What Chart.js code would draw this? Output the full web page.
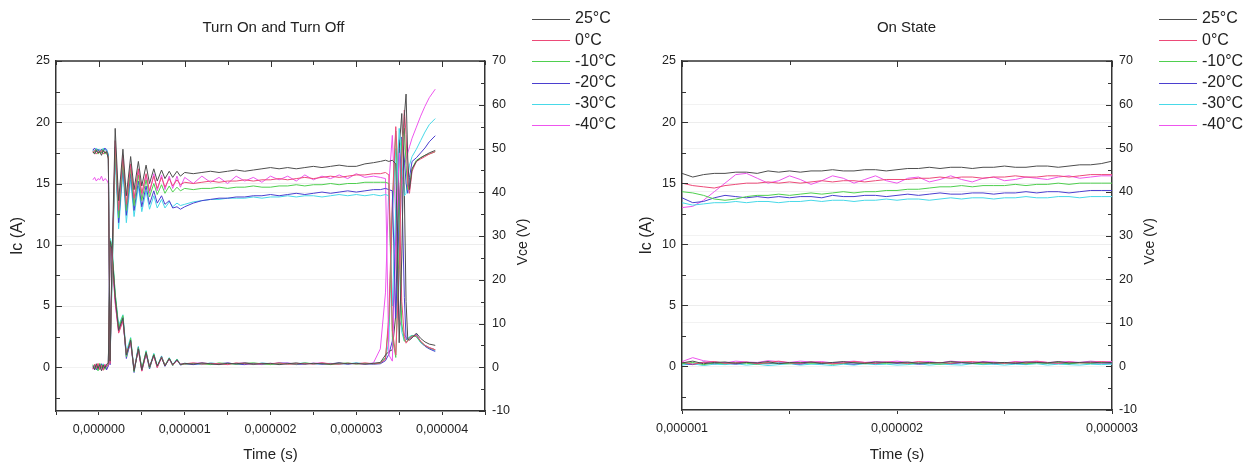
<!DOCTYPE html>
<html>
<head>
<meta charset="utf-8">
<script src="https://cdn.jsdelivr.net/npm/chart.js@4.4.1/dist/chart.umd.min.js"></script>
<style>
  body { margin: 0; background: #fff; }
  .panel { position: absolute; top: 0; width: 629px; height: 467px; }
</style>
</head>
<body>
<div class="panel" style="left:0"><canvas id="switching" width="629" height="467"></canvas></div>
<div class="panel" style="left:629px"><canvas id="onstate" width="629" height="467"></canvas></div>
<script>
const temps = ['25°C', '0°C', '-10°C', '-20°C', '-30°C', '-40°C'];
const colors = ['#4d4d4d', '#ec4a78', '#4fcf4f', '#4b3fcf', '#47d9e8', '#ee55ee'];

// Turn on / turn off, time in microseconds
const tSwitch = [
  -0.07, -0.05, -0.03, -0.01, 0.01, 0.03, 0.05, 0.07, 0.09, 0.11,
  0.13, 0.15,
  0.19, 0.23, 0.28, 0.32, 0.37, 0.41, 0.46, 0.50, 0.55, 0.59, 0.64, 0.68, 0.73, 0.77, 0.82, 0.86, 0.91, 0.95,
  1.0, 1.1, 1.2, 1.3, 1.4, 1.5, 1.6, 1.7, 1.8, 1.9, 2.0, 2.1, 2.2, 2.3, 2.4, 2.5, 2.6, 2.7, 2.8, 2.9, 3.0, 3.1, 3.2,
  3.28, 3.34, 3.38, 3.42, 3.46, 3.50, 3.53, 3.56, 3.58, 3.60, 3.62, 3.65, 3.70, 3.75, 3.80, 3.85, 3.92
];

// Ic (A)
const icSw25 = [
  17.6, 17.4, 17.7, 17.5, 17.6, 17.3, 17.7, 17.5, 17.6, 17.0,
  0.5, 8.0,
  19.5, 13.6, 17.8, 14.0, 17.2, 14.5, 16.8, 14.8, 16.5, 15.0, 16.2, 15.2, 16.1, 15.4, 16.0, 15.5, 16.0, 15.6,
  15.9, 15.8, 15.9, 16.0, 15.9, 16.0, 16.1, 16.0, 16.1, 16.2, 16.3, 16.2, 16.3, 16.2, 16.3, 16.4, 16.3, 16.4, 16.5, 16.4, 16.4, 16.6, 16.7,
  16.8, 16.9, 16.8, 16.9, 16.6, 2.0, 9.0, 20.5, 22.3, 17.0, 14.5, 16.2, 16.8, 17.1, 17.3, 17.5, 17.7
];
const icSw0 = [
  17.5, 17.7, 17.4, 17.6, 17.5, 17.7, 17.4, 17.6, 17.5, 17.1,
  0.3, 7.0,
  18.5, 12.8, 17.3, 13.3, 16.6, 13.8, 16.2, 14.2, 15.8, 14.4, 15.6, 14.6, 15.5, 14.7, 15.4, 14.8, 15.3, 14.9,
  15.1, 15.0, 15.1, 15.2, 15.1, 15.2, 15.2, 15.3, 15.2, 15.3, 15.3, 15.4, 15.3, 15.4, 15.5, 15.4, 15.5, 15.6, 15.5, 15.6, 15.7, 15.7, 15.8,
  15.8, 15.9, 15.7, 3.0, 1.0, 8.0, 17.0, 21.0, 19.0, 15.0, 14.2, 16.0, 16.8, 17.0, 17.2, 17.4, 17.6
];
const icSwM10 = [
  17.6, 17.5, 17.8, 17.4, 17.7, 17.5, 17.8, 17.4, 17.6, 17.2,
  0.6, 6.5,
  17.8, 12.2, 16.8, 12.8, 16.2, 13.2, 15.7, 13.6, 15.3, 13.9, 15.0, 14.1, 14.9, 14.2, 14.8, 14.3, 14.7, 14.4,
  14.6, 14.5, 14.6, 14.6, 14.7, 14.6, 14.7, 14.7, 14.8, 14.7, 14.7, 14.8, 14.8, 14.9, 14.8, 14.9, 14.9, 15.0, 14.9, 15.0, 15.0, 15.1, 15.1,
  15.1, 15.1, 15.0, 2.5, 0.8, 10.0, 18.5, 19.5, 16.5, 14.5, 14.8, 16.2, 16.9, 17.1, 17.3, 17.4, 17.6
];
const icSwM20 = [
  17.7, 17.9, 17.6, 17.8, 17.5, 17.8, 17.6, 17.9, 17.7, 17.3,
  0.2, 7.5,
  18.0, 11.8, 16.5, 12.4, 15.8, 12.8, 15.2, 13.1, 14.8, 13.3, 14.4, 13.4, 14.0, 13.3, 13.6, 13.0, 13.1, 12.9,
  13.1, 13.4, 13.6, 13.7, 13.8, 13.8, 13.9, 13.9, 14.0, 14.0, 14.1, 14.0, 14.1, 14.2, 14.1, 14.2, 14.3, 14.2, 14.3, 14.4, 14.3, 14.4, 14.5,
  14.5, 14.6, 14.5, 14.4, 4.0, 12.0, 18.8, 17.0, 15.0, 14.2, 15.5, 16.8, 17.1, 17.5, 17.9, 18.4, 18.9
];
const icSwM30 = [
  17.8, 17.6, 17.9, 17.7, 17.8, 17.5, 17.9, 17.7, 17.8, 17.4,
  0.4, 6.0,
  17.0, 11.3, 16.0, 11.8, 15.3, 12.3, 14.8, 12.7, 14.4, 12.9, 14.0, 13.0, 13.7, 13.0, 13.5, 13.1, 13.4, 13.2,
  13.3, 13.5, 13.6, 13.7, 13.7, 13.8, 13.8, 13.8, 13.9, 13.8, 13.9, 13.9, 14.0, 13.9, 14.0, 14.0, 13.9, 14.0, 14.1, 14.0, 14.1, 14.0, 14.1,
  14.0, 14.1, 14.0, 5.0, 13.0, 19.5, 17.0, 14.0, 14.2, 15.5, 16.5, 17.2, 17.8, 18.5, 19.2, 19.8, 20.3
];
const icSwM40 = [
  15.3, 15.5, 15.2, 15.4, 15.3, 15.6, 15.2, 15.4, 15.3, 15.0,
  0.8, 7.0,
  17.5, 12.5, 17.0, 13.0, 16.5, 13.5, 16.0, 13.9, 15.7, 14.2, 15.8, 14.4, 15.7, 14.5, 15.6, 14.6, 15.6, 14.7,
  15.5, 15.0, 15.6, 15.1, 15.5, 15.0, 15.6, 15.2, 15.5, 15.1, 15.6, 15.3, 15.6, 15.2, 15.7, 15.3, 15.6, 15.4, 15.7, 15.4, 15.8, 15.5, 15.6,
  15.5, 15.4, 1.0, 0.5, 10.0, 17.5, 15.0, 16.5, 17.0, 17.5, 18.0, 18.7, 19.6, 20.5, 21.3, 22.0, 22.7
];

// Vce (V)
const vceSw25 = [
  0.3, -0.6, 0.8, -0.3, 0.6, -0.8, 0.5, -0.2, 0.7, 0.9,
  28.8, 27.2,
  16.0, 8.4, 11.2, 2.8, 6.2, -0.8, 4.2, -0.6, 3.4, 0.0, 2.8, 0.3, 2.2, 0.3, 2.0, 0.6, 1.7, 0.6,
  0.9, 0.7, 1.0, 0.8, 0.6, 0.9, 0.8, 1.0, 0.7, 0.8, 0.9, 0.6, 0.8, 1.0, 0.7, 0.9, 0.8, 0.7, 1.0, 0.8, 0.9, 0.7, 0.9,
  1.1, 2.8, 3.6, 4.0, 12.0, 50.0, 58.0, 40.0, 15.0, 6.4, 6.2, 6.7, 7.8, 6.6, 5.8, 5.3, 5.0
];
const vceSw0 = [
  -0.4, 0.7, -0.2, 0.9, -0.5, 0.4, -0.7, 0.6, 0.2, 0.5,
  27.5, 26.0,
  15.0, 7.8, 10.5, 3.2, 5.8, -0.5, 4.0, -0.9, 3.1, 0.2, 2.6, -0.1, 2.3, 0.4, 1.9, 0.5, 1.6, 0.7,
  0.8, 1.0, 0.7, 0.9, 0.8, 0.6, 1.0, 0.8, 0.7, 0.9, 0.8, 1.0, 0.7, 0.8, 0.9, 0.7, 1.0, 0.8, 0.7, 0.9, 0.8, 1.0, 0.8,
  1.0, 1.8, 12.0, 38.0, 55.0, 40.0, 15.0, 7.0, 5.5, 6.0, 6.5, 7.0, 7.3, 6.0, 5.0, 4.5, 4.0
];
const vceSwM10 = [
  0.6, -0.3, 0.4, -0.8, 0.9, -0.1, 0.6, -0.5, 0.3, 0.7,
  29.0, 27.8,
  17.0, 9.0, 11.8, 2.4, 6.6, -1.0, 4.5, -0.3, 3.6, -0.2, 3.0, 0.2, 2.4, 0.5, 2.1, 0.4, 1.8, 0.6,
  0.7, 0.9, 0.8, 0.6, 1.0, 0.8, 0.7, 0.9, 1.0, 0.8, 0.6, 0.9, 0.8, 0.7, 1.0, 0.8, 0.9, 0.6, 0.8, 1.0, 0.7, 0.9, 0.8,
  0.9, 2.2, 10.0, 36.0, 54.0, 30.0, 10.0, 6.0, 5.8, 6.2, 6.8, 7.2, 7.0, 5.8, 5.0, 4.4, 4.0
];
const vceSwM20 = [
  -0.2, 0.5, -0.6, 0.3, -0.4, 0.8, -0.3, 0.5, -0.6, 0.4,
  28.0, 27.0,
  15.8, 8.8, 11.5, 2.0, 6.0, -1.2, 4.6, -0.8, 3.2, -0.4, 2.9, 0.0, 2.5, 0.2, 2.0, 0.4, 1.7, 0.5,
  0.8, 0.6, 0.9, 0.7, 0.8, 1.0, 0.7, 0.6, 0.9, 0.8, 0.7, 1.0, 0.9, 0.6, 0.8, 0.9, 0.7, 0.8, 1.0, 0.7, 0.9, 0.8, 0.7,
  0.8, 1.5, 3.0, 6.0, 30.0, 52.0, 42.0, 16.0, 6.5, 6.2, 6.5, 7.0, 7.5, 5.8, 4.8, 4.2, 3.6
];
const vceSwM30 = [
  0.5, -0.4, 0.2, -0.7, 0.6, -0.2, 0.8, -0.4, 0.3, 0.6,
  29.5, 28.2,
  16.8, 9.6, 12.0, 3.6, 6.8, -0.6, 4.8, -0.5, 3.8, 0.1, 3.2, 0.3, 2.6, 0.4, 2.2, 0.6, 1.9, 0.7,
  0.9, 0.8, 0.6, 1.0, 0.8, 0.7, 0.9, 0.8, 0.6, 1.0, 0.8, 0.7, 0.9, 0.8, 1.0, 0.7, 0.8, 0.9, 0.7, 0.8, 1.0, 0.8, 0.9,
  0.9, 2.0, 6.0, 35.0, 50.0, 25.0, 8.0, 6.0, 6.3, 6.6, 7.0, 7.3, 7.0, 5.6, 4.9, 4.3, 3.8
];
const vceSwM40 = [
  -0.5, 0.3, -0.1, 0.6, -0.6, 0.4, -0.2, 0.7, -0.4, 0.2,
  27.0, 26.5,
  14.5, 8.0, 10.8, 2.6, 5.6, -0.4, 3.9, -0.7, 3.0, 0.3, 2.5, 0.1, 2.1, 0.5, 1.8, 0.6, 1.5, 0.8,
  0.7, 0.9, 1.0, 0.8, 0.7, 0.9, 0.8, 1.0, 0.8, 0.6, 0.9, 0.8, 1.0, 0.7, 0.8, 0.9, 1.0, 0.7, 0.8, 0.9, 0.8, 0.7, 1.0,
  4.2, 17.0, 42.0, 53.0, 34.0, 11.0, 9.0, 7.5, 6.8, 6.5, 6.9, 7.2, 7.0, 5.8, 5.0, 4.5, 4.0
];

// On state, time in microseconds
const tOn = [
  1.00, 1.05, 1.10, 1.15, 1.20, 1.25, 1.30, 1.35, 1.40, 1.45,
  1.50, 1.55, 1.60, 1.65, 1.70, 1.75, 1.80, 1.85, 1.90, 1.95,
  2.00, 2.05, 2.10, 2.15, 2.20, 2.25, 2.30, 2.35, 2.40, 2.45,
  2.50, 2.55, 2.60, 2.65, 2.70, 2.75, 2.80, 2.85, 2.90, 2.95,
  3.00
];
const icOn25 = [
  15.8, 15.5, 15.7, 15.8, 15.8, 15.9, 15.9, 15.8, 16.0, 15.9,
  16.0, 15.9, 16.0, 16.0, 16.1, 16.0, 16.0, 16.1, 16.1, 16.0,
  16.1, 16.2, 16.2, 16.3, 16.2, 16.3, 16.3, 16.2, 16.3, 16.3,
  16.4, 16.3, 16.3, 16.4, 16.4, 16.3, 16.4, 16.5, 16.5, 16.6,
  16.8
];
const icOn0 = [
  15.0, 14.8, 14.7, 14.6, 14.8, 14.9, 15.0, 15.0, 15.1, 15.0,
  15.1, 15.0, 15.1, 15.2, 15.1, 15.2, 15.2, 15.1, 15.2, 15.3,
  15.3, 15.3, 15.4, 15.4, 15.5, 15.4, 15.5, 15.5, 15.4, 15.5,
  15.5, 15.6, 15.5, 15.5, 15.6, 15.6, 15.5, 15.6, 15.7, 15.7,
  15.7
];
const icOnM10 = [
  14.3, 14.2, 14.0, 13.7, 13.6, 13.7, 13.9, 14.0, 14.0, 14.1,
  14.0, 14.1, 14.2, 14.1, 14.2, 14.3, 14.2, 14.3, 14.3, 14.4,
  14.4, 14.5, 14.5, 14.6, 14.7, 14.7, 14.8, 14.7, 14.8, 14.8,
  14.8, 14.9, 14.8, 14.9, 14.9, 15.0, 14.9, 15.0, 15.0, 15.0,
  15.0
];
const icOnM20 = [
  13.8, 13.4, 13.5, 13.8, 14.0, 13.9, 13.8, 13.9, 13.8, 13.9,
  13.8, 13.9, 13.9, 13.8, 14.0, 13.9, 13.9, 14.0, 14.0, 13.9,
  14.0, 14.1, 14.0, 14.1, 14.2, 14.1, 14.1, 14.2, 14.2, 14.1,
  14.2, 14.2, 14.3, 14.2, 14.3, 14.3, 14.2, 14.3, 14.4, 14.4,
  14.4
];
const icOnM30 = [
  13.4, 13.2, 13.3, 13.4, 13.4, 13.5, 13.4, 13.5, 13.5, 13.4,
  13.5, 13.5, 13.6, 13.5, 13.6, 13.6, 13.5, 13.6, 13.6, 13.7,
  13.6, 13.7, 13.7, 13.6, 13.7, 13.8, 13.7, 13.8, 13.8, 13.7,
  13.8, 13.8, 13.9, 13.8, 13.8, 13.9, 13.9, 13.8, 13.9, 13.9,
  13.9
];
const icOnM40 = [
  13.0, 13.1, 13.6, 14.3, 15.0, 15.7, 15.8, 15.4, 15.0, 15.2,
  15.6, 15.3, 14.9, 15.2, 15.6, 15.4, 15.0, 15.3, 15.6, 15.2,
  15.0, 15.4, 15.5, 15.1, 15.3, 15.6, 15.3, 15.1, 15.4, 15.5,
  15.2, 15.3, 15.5, 15.4, 15.3, 15.5, 15.6, 15.4, 15.5, 15.6,
  15.6
];
const vceOn25 = [
  0.8, 1.2, 0.6, 0.9, 1.0, 0.7, 0.9, 0.8, 1.1, 0.6,
  0.9, 0.8, 1.0, 0.7, 0.9, 1.1, 0.8, 0.7, 1.0, 0.9,
  0.8, 1.0, 0.7, 0.9, 0.8, 1.1, 0.9, 0.7, 1.0, 0.8,
  0.9, 0.7, 1.0, 0.9, 0.8, 1.1, 0.8, 0.9, 1.0, 0.8,
  0.9
];
const vceOn0 = [
  1.0, 0.5, 0.9, 1.1, 0.7, 0.8, 1.0, 0.6, 0.9, 1.2,
  0.8, 0.7, 1.0, 0.9, 0.6, 0.8, 1.1, 0.9, 0.7, 1.0,
  0.9, 0.7, 1.1, 0.8, 0.9, 0.7, 1.0, 1.1, 0.8, 0.9,
  0.7, 1.0, 0.8, 1.1, 0.9, 0.7, 1.0, 0.8, 0.9, 1.1,
  0.9
];
const vceOnM10 = [
  0.6, 0.9, 0.4, 0.8, 0.6, 0.9, 0.7, 0.5, 0.8, 0.7,
  0.6, 0.9, 0.7, 0.8, 0.5, 0.7, 0.9, 0.6, 0.8, 0.7,
  0.9, 0.6, 0.8, 0.7, 0.5, 0.8, 0.9, 0.7, 0.6, 0.8,
  0.7, 0.9, 0.6, 0.8, 0.7, 0.9, 0.6, 0.8, 0.7, 0.9,
  0.8
];
const vceOnM20 = [
  0.7, 0.4, 1.0, 0.6, 0.8, 0.5, 0.9, 0.7, 0.6, 0.8,
  0.7, 0.5, 0.9, 0.6, 0.8, 0.7, 0.5, 0.8, 0.6, 0.9,
  0.7, 0.8, 0.5, 0.7, 0.9, 0.6, 0.8, 0.7, 0.9, 0.6,
  0.8, 0.7, 0.6, 0.9, 0.7, 0.8, 0.6, 0.9, 0.7, 0.8,
  0.7
];
const vceOnM30 = [
  0.3, 0.6, 0.2, 0.5, 0.4, 0.6, 0.3, 0.5, 0.2, 0.4,
  0.6, 0.3, 0.5, 0.4, 0.2, 0.5, 0.3, 0.6, 0.4, 0.5,
  0.3, 0.4, 0.6, 0.3, 0.5, 0.4, 0.3, 0.6, 0.4, 0.5,
  0.3, 0.5, 0.4, 0.6, 0.3, 0.5, 0.4, 0.3, 0.5, 0.4,
  0.5
];
const vceOnM40 = [
  1.1, 2.0, 1.3, 1.0, 0.8, 1.2, 1.0, 0.9, 1.3, 1.1,
  0.9, 1.2, 1.0, 1.1, 0.8, 1.0, 1.2, 0.9, 1.1, 1.0,
  1.2, 0.9, 1.0, 1.1, 0.8, 1.2, 1.0, 0.9, 1.1, 1.0,
  0.8, 1.1, 1.0, 1.2, 0.9, 1.0, 1.1, 0.9, 1.2, 1.0,
  1.1
];

Chart.defaults.font.family = "'Liberation Sans', Arial, sans-serif";
Chart.defaults.color = '#222';

function toPoints(times, values) {
  return times.map((t, i) => ({ x: t, y: values[i] }));
}

function buildDatasets(times, icList, vceList) {
  const sets = [];
  temps.forEach((name, k) => sets.push({
    label: name, data: toPoints(times, icList[k]), yAxisID: 'y',
    borderColor: colors[k], borderWidth: 1, pointRadius: 0, tension: 0
  }));
  temps.forEach((name, k) => sets.push({
    label: name + ' Vce', data: toPoints(times, vceList[k]), yAxisID: 'y1',
    borderColor: colors[k], borderWidth: 1, pointRadius: 0, tension: 0
  }));
  return sets;
}

// seconds label from microsecond value, decimal comma
function secLabel(v) {
  return (v / 1e6).toFixed(6).replace('.', ',');
}

// frame, inward ticks, right axis title and the legend
const framePlugin = {
  id: 'frame',
  afterDraw(chart) {
    const { ctx, chartArea: a, scales } = chart;
    ctx.save();
    ctx.strokeStyle = '#333';
    ctx.lineWidth = 1.5;
    ctx.beginPath();
    ctx.moveTo(a.left, a.top);
    ctx.lineTo(a.right, a.top);
    ctx.stroke();

    ctx.lineWidth = 1;
    ctx.beginPath();
    scales.y.ticks.forEach(t => {
      const y = Math.round(scales.y.getPixelForValue(t.value)) + 0.5;
      const len = t.value % 5 === 0 ? 6 : 4;
      ctx.moveTo(a.left, y);
      ctx.lineTo(a.left + len, y);
    });
    scales.y1.ticks.forEach(t => {
      const y = Math.round(scales.y1.getPixelForValue(t.value)) + 0.5;
      const len = t.value % 10 === 0 ? 6 : 4;
      ctx.moveTo(a.right, y);
      ctx.lineTo(a.right - len, y);
    });
    scales.x.ticks.forEach(t => {
      const x = Math.round(scales.x.getPixelForValue(t.value)) + 0.5;
      const len = Number.isInteger(t.value) ? 6 : 4;
      ctx.moveTo(x, a.top);
      ctx.lineTo(x, a.top + len);
    });
    ctx.stroke();

    // right axis title, reading upwards
    ctx.save();
    ctx.translate(a.right + 38, (a.top + a.bottom) / 2 + 6);
    ctx.rotate(-Math.PI / 2);
    ctx.font = "14px 'Liberation Sans', Arial, sans-serif";
    ctx.fillStyle = '#222';
    ctx.textAlign = 'center';
    ctx.textBaseline = 'middle';
    ctx.fillText('Vce (V)', 0, 0);
    ctx.restore();

    // legend
    ctx.font = "16px 'Liberation Sans', Arial, sans-serif";
    ctx.textAlign = 'left';
    ctx.textBaseline = 'middle';
    chart.data.datasets.slice(0, temps.length).forEach((ds, i) => {
      const y = 19 + i * 21.2;
      const x0 = a.right + 47;
      ctx.strokeStyle = ds.borderColor;
      ctx.lineWidth = 1;
      ctx.beginPath();
      ctx.moveTo(x0, Math.round(y) + 0.5);
      ctx.lineTo(x0 + 38, Math.round(y) + 0.5);
      ctx.stroke();
      ctx.fillStyle = '#222';
      ctx.fillText(ds.label, x0 + 43, y);
    });
    ctx.restore();
  }
};

function makeOptions(cfg) {
  return {
    responsive: false,
    animation: false,
    events: [],
    layout: { padding: { left: 0, right: cfg.padRight, top: 0, bottom: 0 } },
    plugins: {
      legend: { display: false },
      tooltip: { enabled: false },
      title: {
        display: true, text: cfg.title, color: '#222',
        font: { size: 15, weight: 'normal' },
        padding: { top: 19, bottom: 24 }
      }
    },
    scales: {
      x: {
        type: 'linear', position: 'bottom', min: cfg.xMin, max: cfg.xMax,
        ticks: {
          stepSize: 0.5, autoSkip: false, maxRotation: 0, padding: 7,
          font: { size: 12.5 }, color: '#222',
          callback: v => Number.isInteger(v) ? secLabel(v) : ''
        },
        grid: { drawOnChartArea: false, drawTicks: true, tickLength: 4, color: '#333' },
        border: { display: true, color: '#333', width: 1.5 },
        title: { display: true, text: 'Time (s)', font: { size: 15 }, color: '#222', padding: { top: 0, bottom: 3 } },
        afterFit: s => { s.height = cfg.xHeight; }
      },
      y: {
        position: 'left', min: -3.5714, max: 25,
        ticks: {
          stepSize: 2.5, includeBounds: false, padding: 6,
          font: { size: 12.5 }, color: '#222',
          callback: v => v % 5 === 0 ? v : ''
        },
        grid: {
          drawTicks: false,
          color: c => (c.tick && c.tick.value % 5 === 0) ? '#ededed' : 'rgba(0,0,0,0)'
        },
        border: { display: true, color: '#333', width: 1.5 },
        title: { display: true, text: 'Ic (A)', font: { size: 16 }, color: '#222', padding: { top: 8, bottom: 0 } },
        afterFit: s => { s.width = cfg.leftWidth; }
      },
      y1: {
        position: 'right', min: -10, max: 70,
        ticks: {
          stepSize: 5, padding: 7,
          font: { size: 12.5 }, color: '#222',
          callback: v => v % 10 === 0 ? v : ''
        },
        grid: {
          drawTicks: false,
          color: c => (c.tick && c.tick.value % 10 === 0) ? '#f2f2f2' : 'rgba(0,0,0,0)'
        },
        border: { display: true, color: '#333', width: 1.5 },
        afterFit: s => { s.width = cfg.rightWidth; }
      }
    }
  };
}

new Chart(document.getElementById('switching'), {
  type: 'line',
  data: {
    datasets: buildDatasets(tSwitch,
      [icSw25, icSw0, icSwM10, icSwM20, icSwM30, icSwM40],
      [vceSw25, vceSw0, vceSwM10, vceSwM20, vceSwM30, vceSwM40])
  },
  options: makeOptions({
    title: 'Turn On and Turn Off', xMin: -0.5, xMax: 4.5,
    padRight: 82, leftWidth: 56, rightWidth: 62, xHeight: 56
  }),
  plugins: [framePlugin]
});

new Chart(document.getElementById('onstate'), {
  type: 'line',
  data: {
    datasets: buildDatasets(tOn,
      [icOn25, icOn0, icOnM10, icOnM20, icOnM30, icOnM40],
      [vceOn25, vceOn0, vceOnM10, vceOnM20, vceOnM30, vceOnM40])
  },
  options: makeOptions({
    title: 'On State', xMin: 1, xMax: 3,
    padRight: 74, leftWidth: 53, rightWidth: 72, xHeight: 57
  }),
  plugins: [framePlugin]
});
</script>
</body>
</html>
